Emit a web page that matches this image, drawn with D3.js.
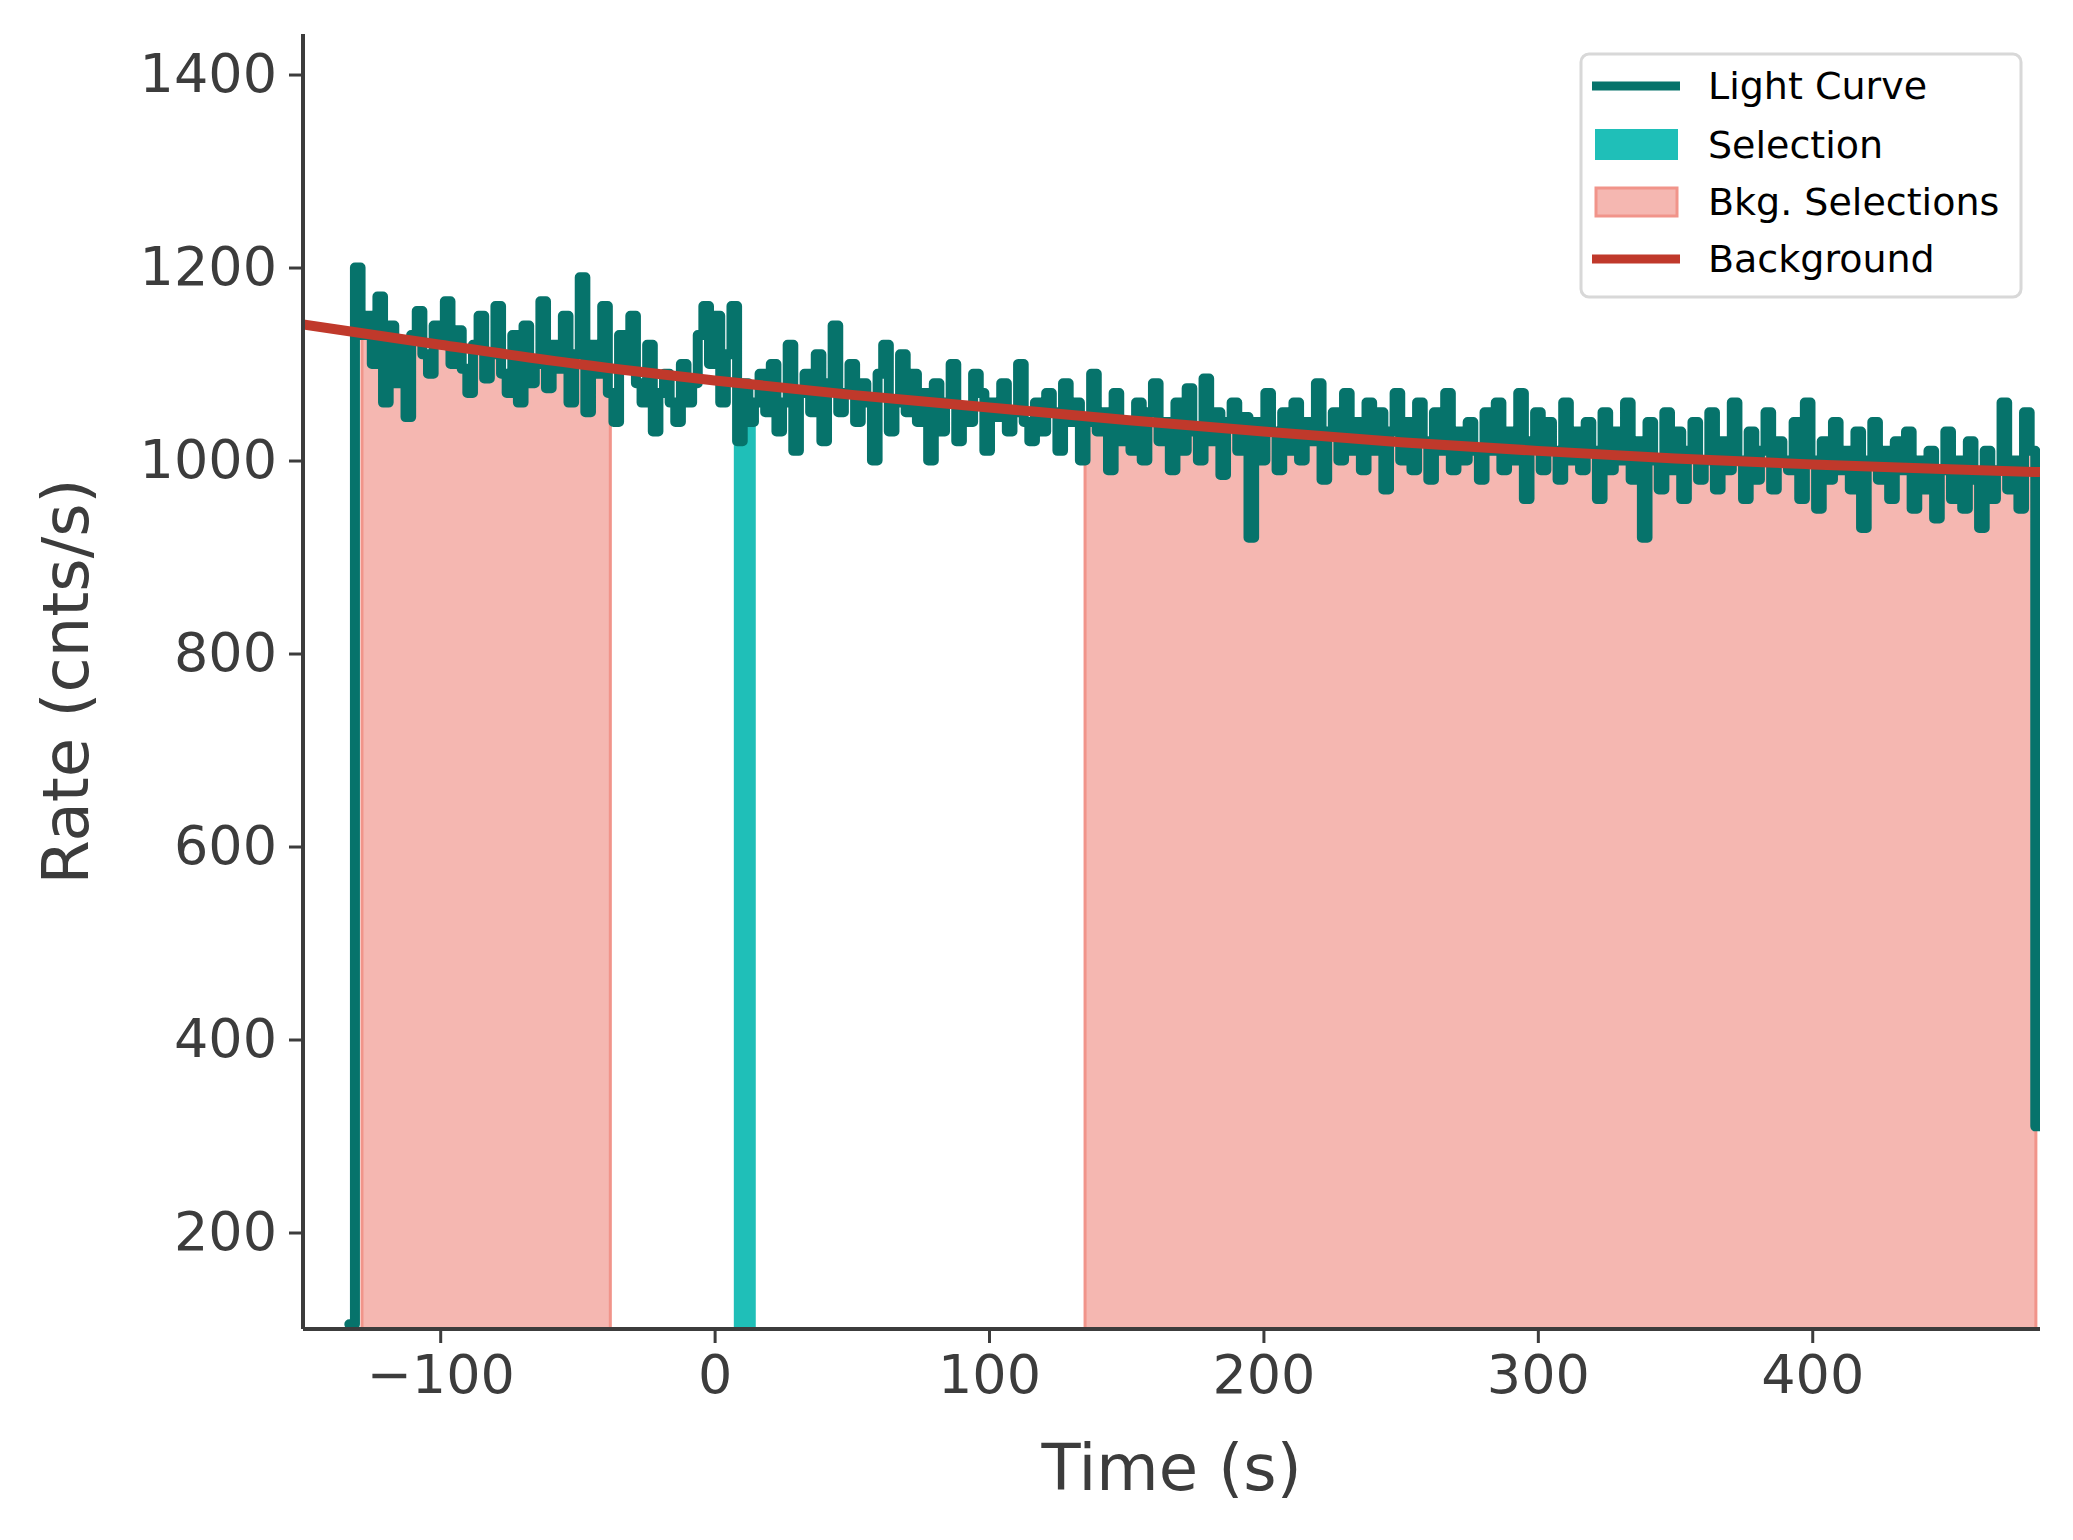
<!DOCTYPE html>
<html>
<head>
<meta charset="utf-8">
<script src="https://cdn.jsdelivr.net/npm/d3@7"></script>
<style>
  body { margin: 0; background: #fff; }
  text { font-family: "DejaVu Sans", sans-serif; }
</style>
</head>
<body>
<div id="chart"></div>
<script>
// light curve: 2.048 s bins starting at t0
var t0 = -133.12;
var binSize = 2.048;
var rates = [
  105,
  1200,1130,1150,1100,1170,1060,1140,1080,1120,1045,1130,1155,1110,1090,1140,1125,1165,1100,1135,1095,
  1070,1120,1150,1085,1110,1160,1090,1070,1130,1060,1140,1080,1100,1165,1075,1120,1095,1150,1060,1110,
  1190,1050,1120,1090,1160,1070,1040,1130,1100,1150,1080,1060,1120,1030,1070,1090,1060,1040,1100,1060,
  1080,1130,1160,1100,1150,1060,1110,1160,1020,1080,1040,1060,1090,1050,1100,1030,1060,1120,1010,1070,
  1090,1050,1110,1020,1080,1140,1050,1070,1100,1040,1080,1060,1000,1090,1120,1030,1060,1110,1050,1090,
  1040,1070,1000,1080,1030,1060,1100,1020,1050,1040,1090,1070,1010,1060,1045,1080,1030,1050,1100,1040,
  1020,1060,1030,1070,1050,1010,1080,1040,1060,1000,1040,1090,1030,1050,990,1070,1020,1040,1010,1060,
  1000,1050,1080,1020,1040,990,1060,1010,1075,1030,1000,1085,1020,1050,985,1040,1060,1010,1045,920,
  1040,1000,1070,1030,990,1050,1010,1060,1000,1040,1020,1080,980,1030,1050,1000,1070,1010,1040,990,
  1060,1010,1050,970,1030,1070,1000,1040,990,1060,1020,980,1050,1010,1070,990,1030,1000,1040,1010,
  980,1050,1010,1060,990,1030,1000,1070,960,1020,1050,990,1040,1010,980,1060,1000,1030,990,1040,
  1010,960,1050,990,1030,1000,1060,980,1020,920,1040,1000,970,1050,990,1030,960,1010,1040,980,
  1000,1050,970,1020,990,1060,1000,960,1030,980,1010,1050,970,1020,1000,990,1040,960,1060,1000,
  950,1020,980,1040,990,1010,970,1030,930,1000,1040,980,1010,960,1020,990,1030,950,1000,970,
  1010,940,990,1030,960,1000,950,1020,980,930,1010,960,990,1060,970,1000,950,1050,1010,310
];
var selection = [7, 15];
var bkgSelections = [[-128.5, -38], [135, 481.5]];
var bkgTimes = [-150, -100, -50, 0, 50, 100, 150, 200, 250, 300, 350, 400, 450, 483];
var bkgRates = [1141, 1120, 1100, 1083, 1068, 1055, 1042, 1030, 1019, 1010, 1002, 996, 991, 988];
var xTicks = [-100, 0, 100, 200, 300, 400];
var yTicks = [200, 400, 600, 800, 1000, 1200, 1400];
var legendItems = ["Light Curve", "Selection", "Bkg. Selections", "Background"];

var W = 2073, H = 1540;
var pLeft = 303, pRight = 2040, pTop = 34, pBottom = 1329;
var axisColor = "#3c3c3c";

var svg = d3.select("#chart").append("svg").attr("width", W).attr("height", H);
var x = d3.scaleLinear().domain([-150, 483]).range([pLeft, pRight]);
var y = d3.scaleLinear().domain([100, 1442]).range([pBottom, pTop]);

var pts = rates.map(function (r, i) { return { t: t0 + i * binSize, r: r }; });
pts.push({ t: t0 + rates.length * binSize, r: rates[rates.length - 1] });

function rateAt(t) {
  var i = Math.min(rates.length - 1, Math.max(0, Math.floor((t - t0) / binSize)));
  return rates[i];
}

var defs = svg.append("defs");
defs.append("clipPath").attr("id", "plot")
  .append("rect").attr("x", pLeft).attr("y", pTop).attr("width", pRight - pLeft).attr("height", pBottom - pTop);

function clipFor(id, a, b) {
  defs.append("clipPath").attr("id", id)
    .append("rect").attr("x", x(a)).attr("y", pTop).attr("width", x(b) - x(a)).attr("height", pBottom - pTop);
}

var area = d3.area().curve(d3.curveStepAfter)
  .x(function (d) { return x(d.t); })
  .y0(y(100)).y1(function (d) { return y(d.r); });

var g = svg.append("g").attr("clip-path", "url(#plot)");

bkgSelections.forEach(function (s, i) {
  clipFor("bkg" + i, s[0], s[1]);
  g.append("path").datum(pts).attr("d", area)
    .attr("fill", "#f5b7b1").attr("clip-path", "url(#bkg" + i + ")");
  s.forEach(function (e) {
    g.append("line").attr("x1", x(e)).attr("x2", x(e))
      .attr("y1", pBottom).attr("y2", y(rateAt(e)))
      .attr("stroke", "#f1948a").attr("stroke-width", 3);
  });
});

clipFor("sel", selection[0], selection[1]);
g.append("path").datum(pts).attr("d", area)
  .attr("fill", "#1fbfb8").attr("clip-path", "url(#sel)");

var line = d3.line().curve(d3.curveStepAfter)
  .x(function (d) { return x(d.t); }).y(function (d) { return y(d.r); });
g.append("path").datum(pts).attr("d", line)
  .attr("fill", "none").attr("stroke", "#06736b").attr("stroke-width", 10)
  .attr("stroke-linejoin", "round").attr("stroke-linecap", "round");

var bkgLine = d3.line().curve(d3.curveMonotoneX)
  .x(function (d, i) { return x(bkgTimes[i]); }).y(function (d) { return y(d); });
g.append("path").datum(bkgRates).attr("d", bkgLine)
  .attr("fill", "none").attr("stroke", "#c0392b").attr("stroke-width", 10);

// axes
var xAxis = svg.append("g").attr("transform", "translate(0," + pBottom + ")")
  .call(d3.axisBottom(x).tickValues(xTicks).tickSize(14).tickPadding(12)
    .tickFormat(function (d) { return d < 0 ? "\u2212" + Math.abs(d) : d; }));
var yAxis = svg.append("g").attr("transform", "translate(" + pLeft + ",0)")
  .call(d3.axisLeft(y).tickValues(yTicks).tickSize(14).tickPadding(12).tickFormat(d3.format("d")));
[xAxis, yAxis].forEach(function (a) {
  a.select(".domain").attr("stroke", axisColor).attr("stroke-width", 4);
  a.selectAll(".tick line").attr("stroke", axisColor).attr("stroke-width", 3);
  a.selectAll(".tick text").attr("fill", axisColor).style("font-size", "54px")
    .style("font-family", "DejaVu Sans");
});
xAxis.select(".domain").attr("d", "M" + pLeft + ",0H" + pRight);
yAxis.select(".domain").attr("d", "M0," + pBottom + "V" + pTop);

svg.append("text").attr("x", (pLeft + pRight) / 2).attr("y", 1490)
  .attr("text-anchor", "middle").attr("fill", axisColor).style("font-size", "64px").text("Time (s)");
svg.append("text").attr("transform", "translate(88," + (pTop + pBottom) / 2 + ") rotate(-90)")
  .attr("text-anchor", "middle").attr("fill", axisColor).style("font-size", "64px").text("Rate (cnts/s)");

// legend
var lg = svg.append("g");
lg.append("rect").attr("x", 1581).attr("y", 54).attr("width", 440).attr("height", 243)
  .attr("rx", 8).attr("fill", "#fff").attr("stroke", "#d8d8d8").attr("stroke-width", 3);
var rowY = [86, 145, 202, 259];
legendItems.forEach(function (name, i) {
  var yy = rowY[i];
  if (i === 0 || i === 3) {
    lg.append("line").attr("x1", 1592).attr("x2", 1680).attr("y1", yy).attr("y2", yy)
      .attr("stroke", i === 0 ? "#06736b" : "#c0392b").attr("stroke-width", 9);
  } else if (i === 1) {
    lg.append("rect").attr("x", 1595).attr("y", yy - 16).attr("width", 83).attr("height", 31).attr("fill", "#1fbfb8");
  } else {
    lg.append("rect").attr("x", 1596).attr("y", yy - 14).attr("width", 81).attr("height", 28)
      .attr("fill", "#f5b7b1").attr("stroke", "#f1948a").attr("stroke-width", 3);
  }
  lg.append("text").attr("x", 1708).attr("y", yy).attr("dy", "0.35em")
    .attr("fill", "#000").style("font-size", "38px").text(name);
});
</script>
</body>
</html>
